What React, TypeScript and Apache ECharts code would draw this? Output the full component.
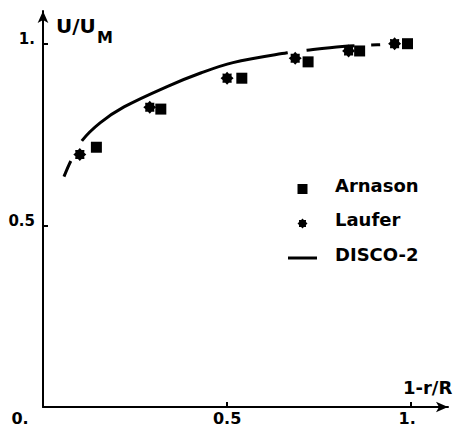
import React, { useEffect, useRef } from 'react';
import * as echarts from 'echarts';

// Data
const arnasonX = [0.145, 0.32, 0.54, 0.72, 0.86, 0.99];
const arnasonY = [0.715, 0.82, 0.905, 0.95, 0.98, 1.0];
const lauferX = [0.10, 0.29, 0.50, 0.685, 0.83, 0.955];
const lauferY = [0.695, 0.825, 0.905, 0.96, 0.98, 1.0];
const discoX = [0.057, 0.076, 0.106, 0.155, 0.22, 0.337, 0.43, 0.516, 0.663, 0.717, 0.813, 0.908, 0.96];
const discoY = [0.634, 0.678, 0.733, 0.782, 0.826, 0.882, 0.92, 0.948, 0.975, 0.982, 0.992, 0.997, 0.999];
const xTickValues = [0.5, 1];
const xLabelValues = [0, 0.5, 1];
const yTickValues = [0.5, 1];
const yLabelValues = [0.5, 1];
const seriesNames = ['Arnason', 'Laufer', 'DISCO-2'];
const xAxisName = '1-r/R';
const yAxisName = 'U/U';
const yAxisNameSub = 'M';

const FONT = 'DejaVu Sans';

function zip(xs: number[], ys: number[]) {
  return xs.map((x, i) => [x, ys[i]]);
}

function makeStar(): string {
  const pts: string[] = [];
  for (let i = 0; i < 16; i++) {
    const a = (i * Math.PI) / 8;
    const r = i % 2 === 0 ? 1 : 0.74;
    pts.push(`${(r * Math.sin(a)).toFixed(3)},${(-r * Math.cos(a)).toFixed(3)}`);
  }
  return 'path://M' + pts.join('L') + 'Z';
}
const starSymbol = makeStar();
const squareSymbol = 'path://M0,0L1,0L1,1L0,1Z';
const lineIcon = 'path://M0,0L29,0L29,3L0,3Z';

export default function App() {
  const ref = useRef<HTMLDivElement>(null);
  useEffect(() => {
    if (!ref.current) return;
    const chart = echarts.init(ref.current, undefined, { renderer: 'svg' });
    const tickFont = { fontFamily: FONT, fontWeight: 'bold' as const, fontSize: 16, color: '#000' };
    const legendFont = { fontFamily: FONT, fontWeight: 'bold' as const, fontSize: 18, color: '#000' };
    chart.setOption({
      animation: false,
      backgroundColor: '#fff',
      grid: { left: 43, right: 11, top: 11, bottom: 21, containLabel: false },
      graphic: [
        {
          type: 'text',
          left: 56,
          top: 16,
          style: { text: yAxisName, fontFamily: FONT, fontWeight: 'bold', fontSize: 20, fill: '#000' },
        },
        {
          type: 'text',
          left: 97,
          top: 29,
          style: { text: yAxisNameSub, fontFamily: FONT, fontWeight: 'bold', fontSize: 16, fill: '#000' },
        },
      ],
      legend: {
        orient: 'vertical',
        left: 288,
        top: 176,
        padding: 0,
        itemWidth: 29,
        itemHeight: 10,
        itemGap: 8.5,
        formatter: '{t|{name}}',
        textStyle: {
          ...legendFont,
          padding: [0, 0, 0, 13],
          rich: {
            t: { ...legendFont, lineHeight: 20, padding: [0, 0, 8, 0] },
          },
        },
        data: [
          { name: seriesNames[0], icon: squareSymbol, itemStyle: { color: '#000' } },
          { name: seriesNames[1], icon: starSymbol, itemStyle: { color: '#000' } },
          { name: seriesNames[2], icon: lineIcon, itemStyle: { color: '#000' } },
        ],
      },
      xAxis: {
        type: 'value',
        min: 0,
        max: 1.1,
        interval: 0.5,
        splitLine: { show: false },
        name: xAxisName,
        nameLocation: 'end',
        nameGap: -45,
        nameTextStyle: {
          fontFamily: FONT,
          fontWeight: 'bold',
          fontSize: 18,
          color: '#000',
          align: 'left',
          verticalAlign: 'bottom',
          padding: [0, 0, 11, 0],
        },
        axisLine: {
          show: true,
          onZero: false,
          lineStyle: { color: '#000', width: 2 },
          symbol: ['none', 'arrow'],
          symbolSize: [8, 12],
        },
        axisTick: {
          show: true,
          inside: true,
          length: 5,
          lineStyle: { color: '#000', width: 2 },
          customValues: xTickValues,
        },
        axisLabel: {
          show: true,
          margin: 3,
          customValues: xLabelValues,
          ...tickFont,
          formatter: (v: number) => {
            if (Math.abs(v) < 1e-9) return '{z|0.}';
            if (Math.abs(v - 1) < 1e-9) return '{o|1.}';
            return '{h|0.5}';
          },
          rich: {
            z: { ...tickFont, padding: [0, 46, 0, 0] },
            o: { ...tickFont, padding: [0, 8, 0, 0] },
            h: { ...tickFont },
          },
        },
      },
      yAxis: {
        type: 'value',
        min: 0,
        max: 1.09,
        interval: 0.5,
        splitLine: { show: false },
        axisLine: {
          show: true,
          onZero: false,
          lineStyle: { color: '#000', width: 2 },
          symbol: ['none', 'arrow'],
          symbolSize: [8, 12],
        },
        axisTick: {
          show: true,
          inside: true,
          length: 5,
          lineStyle: { color: '#000', width: 2 },
          customValues: yTickValues,
        },
        axisLabel: {
          show: true,
          margin: 8,
          customValues: yLabelValues,
          ...tickFont,
          fontSize: 15,
          verticalAlign: 'bottom',
          lineHeight: 9,
          formatter: (v: number) => (Math.abs(v - 1) < 1e-9 ? '1.' : '0.5'),
        },
      },
      series: [
        {
          name: seriesNames[2],
          type: 'line',
          smooth: 0.35,
          symbol: 'none',
          data: zip(discoX, discoY),
          lineStyle: { color: '#000', width: 3, type: [17, 23, 228, 19, 48, 17, 9, 300] },
          itemStyle: { color: '#000' },
          z: 2,
        },
        {
          name: seriesNames[0],
          type: 'scatter',
          symbol: squareSymbol,
          symbolSize: 11,
          data: zip(arnasonX, arnasonY),
          itemStyle: { color: '#000', opacity: 1 },
          z: 3,
        },
        {
          name: seriesNames[1],
          type: 'scatter',
          symbol: starSymbol,
          symbolSize: 13,
          data: zip(lauferX, lauferY),
          itemStyle: { color: '#000', opacity: 1 },
          z: 3,
        },
      ],
    });
    return () => chart.dispose();
  }, []);
  return (
    <div
      ref={ref}
      style={{ position: 'fixed', left: 0, top: 0, width: 459, height: 428, background: '#fff' }}
    />
  );
}
